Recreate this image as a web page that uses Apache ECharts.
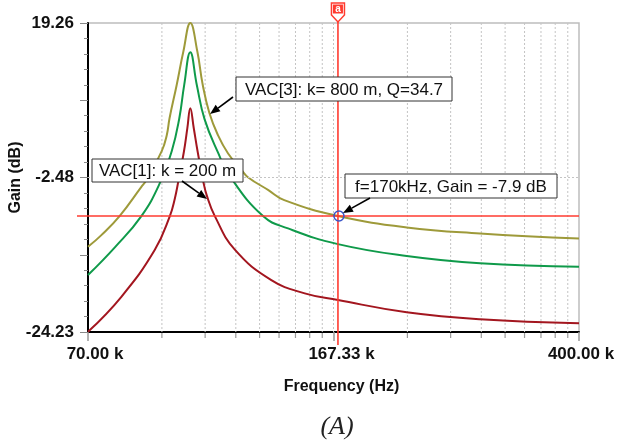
<!DOCTYPE html>
<html><head><meta charset="utf-8">
<script src="https://cdn.jsdelivr.net/npm/echarts@6/dist/echarts.min.js"></script>
<style>html,body{margin:0;padding:0;background:#fff}#c{width:620px;height:443px}</style>
</head><body><div id="c"></div>
<script>
// ---- data (frequency in kHz, gain in dB) ----
const freqK800 = [70.0, 73.4, 78.3, 84.6, 86.1, 90.9, 92.6, 93.5, 95.9, 98.2, 100.65, 103.2, 105.2, 107.7, 111.0, 115.1, 120.8, 123.5, 132.8, 140.5, 170, 217, 281.5, 400];
const gainK800 = [-12.24, -10.6, -7.92, -3.80, -2.86, 1.18, 3.51, 5.86, 10.54, 15.24, 19.26, 15.24, 10.54, 6.6, 3.5, 0.90, -1.45, -2.44, -4.26, -5.67, -7.9, -9.51, -10.35, -11.06];

const freqMid = [70.0, 77.0, 84.6, 90.3, 94.2, 96.8, 98.5, 100.65, 103.0, 105.9, 111.2, 115.6, 130.3, 142.4, 170, 217, 281.5, 400];
const gainMid = [-16.22, -12.32, -7.92, -3.32, 1.18, 5.86, 10.54, 15.14, 10.54, 5.7, 0.90, -2.2, -7.92, -9.65, -11.86, -13.54, -14.57, -15.05];

const freqK200 = [70.0, 78.8, 88.7, 93.6, 95.3, 96.45, 98.4, 99.6, 100.65, 101.9, 103.3, 105.4, 106.7, 109.8, 117.8, 134.2, 151.1, 170, 217, 281.5, 400];
const gainK200 = [-24.2, -19.27, -12.70, -7.92, -5.39, -3.04, 1.18, 4.45, 7.27, 4.45, 1.18, -3.04, -5.0, -7.92, -12.6, -16.92, -18.79, -19.73, -21.45, -22.44, -23.01];

const xTickLabels = ['70.00 k', '167.33 k', '400.00 k'];
const yTickLabels = ['-24.23', '-2.48', '19.26'];
const fMin = 70000, fMax = 400000, gMin = -24.23, gMax = 19.26;
const cursorFreq = 170000, cursorGain = -7.9;
const annotationTexts = ['VAC[3]: k= 800 m, Q=34.7', 'VAC[1]: k = 200 m', 'f=170kHz, Gain = -7.9 dB'];

// ---- layout / style ----
const FONT = '"Liberation Sans", Arial, sans-serif';
const toPairs = (fk, g) => fk.map((f, i) => [f * 1000, g[i]]);
const gMid = (gMin + gMax) / 2;

const gridMultipliers = [2, 3, 4, 5, 6, 7, 8, 9];
const gridU = [];
[0, 1].forEach(s => gridMultipliers.forEach(k => gridU.push(s + Math.log10(k))));
gridU.push(1);

const annLayout = [
  { box: [236, 77, 216, 24], arrow: [233, 97, 210, 114] },
  { box: [92, 159, 151, 23], arrow: [182, 181, 207, 199] },
  { box: [345, 174, 212, 24], arrow: [370, 198, 343, 213] }
];

function arrowEls(a) {
  const [x1, y1, x2, y2] = a;
  const dx = x2 - x1, dy = y2 - y1, L = Math.hypot(dx, dy);
  const ux = dx / L, uy = dy / L, hl = 10, hw = 4;
  const bx = x2 - ux * hl, by = y2 - uy * hl;
  return [
    { type: 'line', shape: { x1, y1, x2: bx, y2: by }, style: { stroke: '#000', lineWidth: 1.6 }, z: 100 },
    { type: 'polygon', shape: { points: [[x2, y2], [bx - uy * hw, by + ux * hw], [bx + uy * hw, by - ux * hw]] }, style: { fill: '#000' }, z: 100 }
  ];
}
const graphics = [];
annLayout.forEach((a, i) => {
  const [x, y, w, h] = a.box;
  graphics.push({ type: 'rect', shape: { x, y, width: w, height: h }, style: { fill: '#fff', stroke: '#333', lineWidth: 1 }, z: 100 });
  graphics.push({ type: 'text', x: x + w / 2, y: y + h / 2 + 1, style: { text: annotationTexts[i], font: '17px ' + FONT, fill: '#111', align: 'center', verticalAlign: 'middle' }, z: 101 });
  graphics.push(...arrowEls(a.arrow));
});
graphics.push({ type: 'text', x: 337, y: 427, style: { text: '(A)', font: 'italic 26px "Liberation Serif", "Times New Roman", serif', fill: '#222', align: 'center', verticalAlign: 'middle' } });

const TICKFONT = { fontFamily: FONT, fontWeight: 'bold', fontSize: 17, color: '#111' };

const chart = echarts.init(document.getElementById('c'), null, { renderer: 'canvas' });
chart.setOption({
  animation: false,
  backgroundColor: '#fff',
  grid: { left: 88, top: 23, width: 491, height: 309, show: true, borderColor: '#bdbdbd', borderWidth: 1.5, containLabel: false, outerBoundsMode: 'none' },
  xAxis: [
    { type: 'log', logBase: 10, min: fMin, max: fMax, position: 'bottom',
      axisLine: { show: true, onZero: false, lineStyle: { color: '#000', width: 2 } },
      axisTick: { show: false }, axisLabel: { show: false }, splitLine: { show: false }, minorTick: { show: false } },
    { type: 'value', min: 0, max: 2, interval: 1, position: 'bottom',
      name: 'Frequency (Hz)', nameLocation: 'middle', nameGap: 47,
      nameTextStyle: { fontFamily: FONT, fontWeight: 'bold', fontSize: 16, color: '#111', padding: [0, 0, 0, 16] },
      axisLine: { show: false, onZero: false },
      axisTick: { show: true, length: 9, lineStyle: { color: '#999', width: 1.5 } },
      axisLabel: { show: true, margin: 14, ...TICKFONT,
        formatter: (v, i) => '{l' + i + '|' + xTickLabels[i] + '}',
        rich: { l0: { padding: [0, 0, 0, 14], ...TICKFONT },
                l1: { padding: [0, 0, 0, 16], ...TICKFONT },
                l2: { padding: [0, 0, 0, 4], ...TICKFONT } } },
      splitLine: { show: false } }
  ],
  yAxis: [{
    type: 'value', min: gMin, max: gMax, interval: (gMax - gMin) / 4,
    name: 'Gain (dB)', nameLocation: 'middle', nameGap: 64, nameRotate: 90, nameMoveOverlap: false,
    nameTextStyle: { fontFamily: FONT, fontWeight: 'bold', fontSize: 16, color: '#111' },
    axisLine: { show: true, onZero: false, lineStyle: { color: '#000', width: 2 } },
    axisTick: { show: true, length: 8, lineStyle: { color: '#888' } },
    minorTick: { show: true, splitNumber: 5, length: 4, lineStyle: { color: '#888' } },
    axisLabel: { margin: 14, ...TICKFONT,
      formatter: (v, i) => (i % 2 === 0 ? yTickLabels[i / 2] : '') },
    splitLine: { show: false }
  }],
  series: [
    { type: 'custom', name: 'grid', xAxisIndex: 1, yAxisIndex: 0, silent: true, z: 1,
      data: gridU.map(u => [u]),
      renderItem: (params, api) => {
        const u = api.value(0);
        const t = api.coord([u, gMax]), b = api.coord([u, gMin]);
        const major = Math.abs(u - 1) < 1e-9;
        return { type: 'group', children: [
          { type: 'line', shape: { x1: t[0], y1: t[1], x2: b[0], y2: b[1] }, style: { stroke: '#c4c4c4', lineWidth: 1, lineDash: [2, 2] } },
          { type: 'line', shape: { x1: b[0], y1: b[1] + 1, x2: b[0], y2: b[1] + (major ? 1 : 6) }, style: { stroke: '#999', lineWidth: 1.2 } }
        ] };
      } },
    { type: 'line', name: 'VAC[3]: k = 800 m', xAxisIndex: 0, yAxisIndex: 0, data: toPairs(freqK800, gainK800),
      showSymbol: false, smooth: 0.45, lineStyle: { color: '#9e9a3a', width: 2 }, itemStyle: { color: '#9e9a3a' }, z: 3,
      markLine: { silent: true, symbol: 'none', label: { show: false }, lineStyle: { color: '#c4c4c4', type: [2, 2], width: 1 }, data: [{ yAxis: gMid }] } },
    { type: 'line', name: 'VAC[2]', xAxisIndex: 0, yAxisIndex: 0, data: toPairs(freqMid, gainMid),
      showSymbol: false, smooth: 0.45, lineStyle: { color: '#0f9a4a', width: 2 }, itemStyle: { color: '#0f9a4a' }, z: 3 },
    { type: 'line', name: 'VAC[1]: k = 200 m', xAxisIndex: 0, yAxisIndex: 0, data: toPairs(freqK200, gainK200),
      showSymbol: false, smooth: 0.45, lineStyle: { color: '#a3161f', width: 2 }, itemStyle: { color: '#a3161f' }, z: 3 },
    { type: 'custom', name: 'cursor', xAxisIndex: 0, yAxisIndex: 0, silent: true, z: 10, clip: false,
      data: [[cursorFreq, cursorGain]],
      renderItem: (params, api) => {
        const f = api.value(0), g = api.value(1);
        const p = api.coord([f, g]);
        const t = api.coord([f, gMax]), b = api.coord([f, gMin]);
        const l = api.coord([fMin, g]), r = api.coord([fMax, g]);
        const x = p[0], ty = t[1];
        const red = '#ff3b30';
        return { type: 'group', children: [
          { type: 'line', shape: { x1: x, y1: ty - 1, x2: x, y2: b[1] + 13 }, style: { stroke: red, lineWidth: 1.6 } },
          { type: 'line', shape: { x1: l[0] - 11, y1: p[1], x2: r[0], y2: p[1] }, style: { stroke: red, lineWidth: 1.6 } },
          { type: 'polygon', shape: { points: [[x - 6.5, ty - 20], [x + 6.5, ty - 20], [x + 6.5, ty - 8], [x, ty - 1], [x - 6.5, ty - 8]] }, style: { fill: '#fff', stroke: red, lineWidth: 1.5 } },
          { type: 'rect', shape: { x: x - 5, y: ty - 18.5, width: 10, height: 9 }, style: { fill: red } },
          { type: 'text', x: x, y: ty - 14, style: { text: 'a', font: 'bold 10px ' + FONT, fill: '#fff', align: 'center', verticalAlign: 'middle' } },
          { type: 'circle', shape: { cx: x + 1, cy: p[1], r: 5 }, style: { fill: 'none', stroke: '#3a55c8', lineWidth: 1.5 } }
        ] };
      } }
  ],
  graphic: graphics
});
</script>
</body></html>
